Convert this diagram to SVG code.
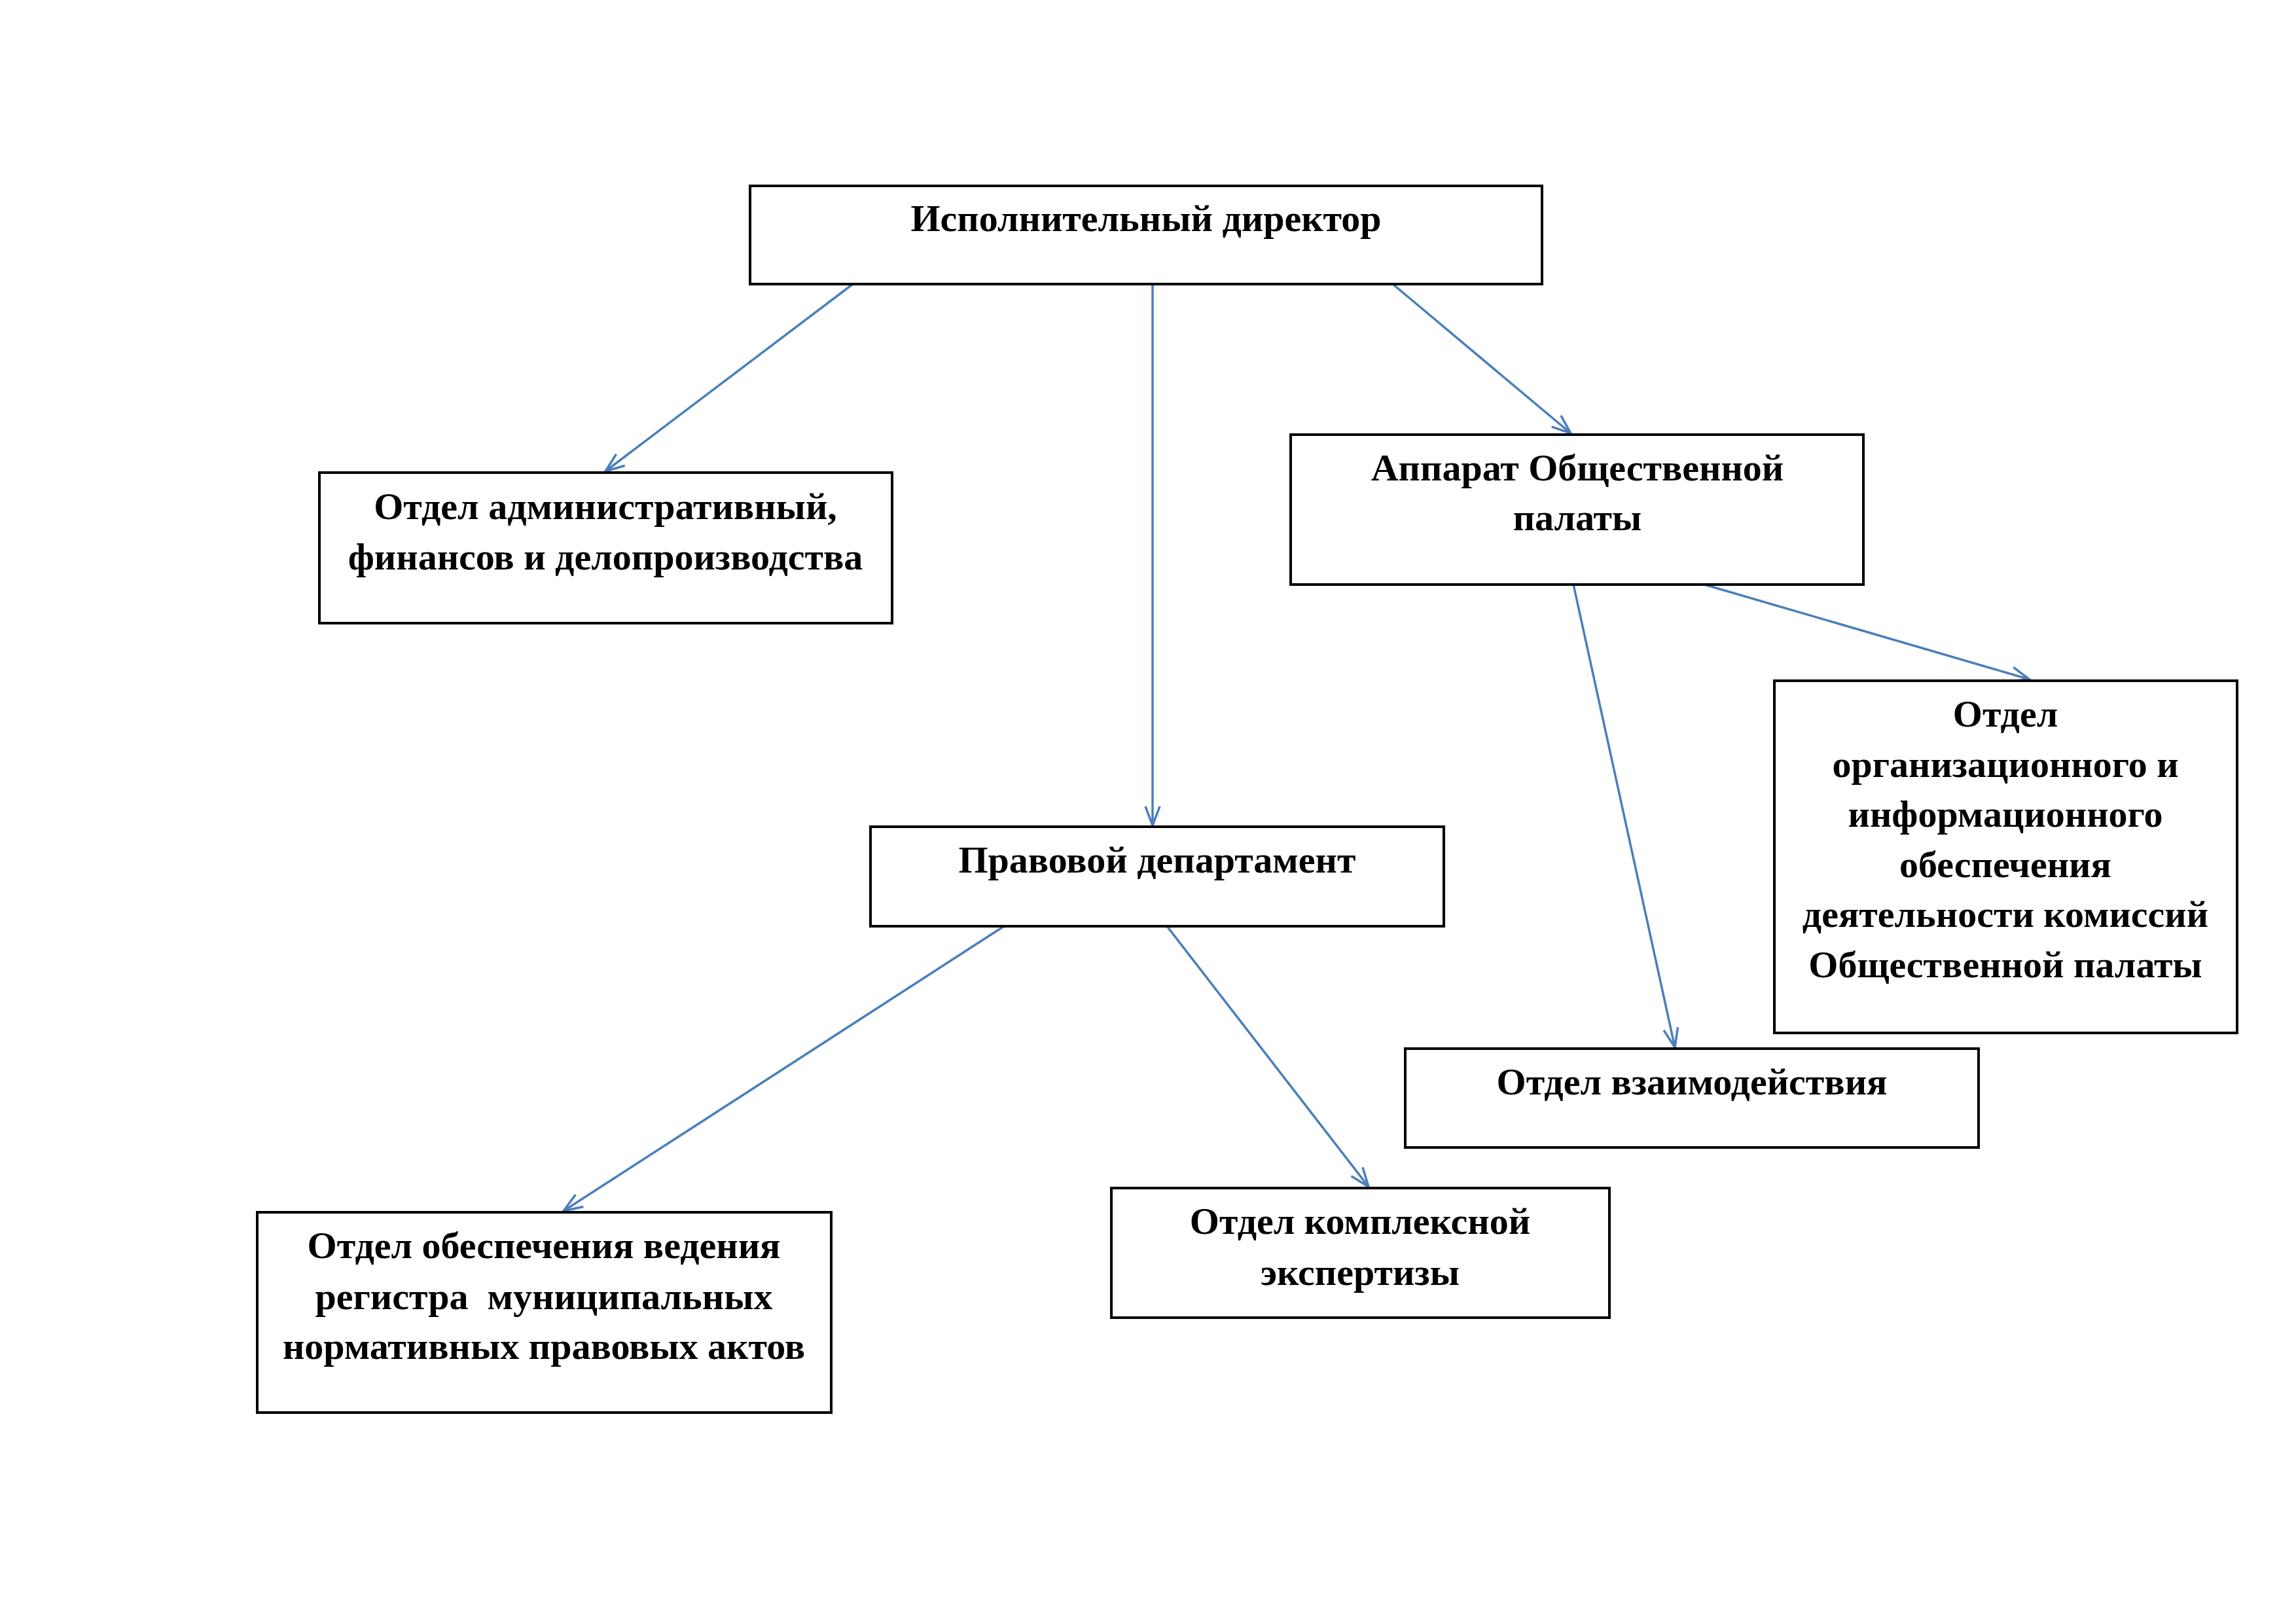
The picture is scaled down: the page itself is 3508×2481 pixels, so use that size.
<svg xmlns="http://www.w3.org/2000/svg" width="3508" height="2481" viewBox="0 0 3508 2481">
<style>
.box{fill:#fff;stroke:#000;stroke-width:4}
.t{font-family:"Liberation Serif","Times New Roman",serif;font-weight:bold;font-size:58px;fill:#000;text-anchor:middle;white-space:pre}
.c{stroke:#4A7EBB;stroke-width:3.5;fill:none;marker-end:url(#ah)}
</style>
<defs>
<marker id="ah" markerUnits="userSpaceOnUse" markerWidth="34" markerHeight="26" refX="31" refY="13" orient="auto" viewBox="0 0 34 26">
<path d="M2,2 L31,13 L2,24" fill="none" stroke="#4A7EBB" stroke-width="3.5"/>
</marker>
</defs>
<rect width="3508" height="2481" fill="#fff"/>
<g id="connectors">
<line class="c" x1="1303" y1="434" x2="925" y2="720"/>
<line class="c" x1="1761" y1="434" x2="1761" y2="1261"/>
<line class="c" x1="2128" y1="434" x2="2400" y2="662"/>
<line class="c" x1="2404" y1="893" x2="2559" y2="1600"/>
<line class="c" x1="2604" y1="893" x2="3101" y2="1038"/>
<line class="c" x1="1534" y1="1415" x2="861" y2="1850"/>
<line class="c" x1="1783" y1="1415" x2="2091" y2="1813"/>
</g>
<g id="director">
<rect class="box" x="1146" y="284" width="1210" height="150"/>
<text class="t" x="1751" y="353">Исполнительный директор</text>
</g>
<g id="admin">
<rect class="box" x="488" y="722" width="875" height="230"/>
<text class="t" x="925" y="793">Отдел административный,</text>
<text class="t" x="925" y="870">финансов и делопроизводства</text>
</g>
<g id="apparat">
<rect class="box" x="1972" y="664" width="875" height="229"/>
<text class="t" x="2410" y="734">Аппарат Общественной</text>
<text class="t" x="2410" y="810">палаты</text>
</g>
<g id="org">
<rect class="box" x="2711" y="1040" width="707" height="538"/>
<text class="t" x="3064" y="1110">Отдел</text>
<text class="t" x="3064" y="1187">организационного и</text>
<text class="t" x="3064" y="1263">информационного</text>
<text class="t" x="3064" y="1340">обеспечения</text>
<text class="t" x="3064" y="1416">деятельности комиссий</text>
<text class="t" x="3064" y="1493">Общественной палаты</text>
</g>
<g id="pravovoi">
<rect class="box" x="1330" y="1263" width="876" height="152"/>
<text class="t" x="1768" y="1333">Правовой департамент</text>
</g>
<g id="vzaim">
<rect class="box" x="2147" y="1602" width="876" height="151"/>
<text class="t" x="2585" y="1672">Отдел взаимодействия</text>
</g>
<g id="komplex">
<rect class="box" x="1698" y="1815" width="761" height="198"/>
<text class="t" x="2078" y="1885">Отдел комплексной</text>
<text class="t" x="2078" y="1963">экспертизы</text>
</g>
<g id="registr">
<rect class="box" x="393" y="1852" width="877" height="306"/>
<text class="t" x="831" y="1922">Отдел обеспечения ведения</text>
<text class="t" x="831" y="2000">регистра  муниципальных</text>
<text class="t" x="831" y="2076">нормативных правовых актов</text>
</g>
</svg>
